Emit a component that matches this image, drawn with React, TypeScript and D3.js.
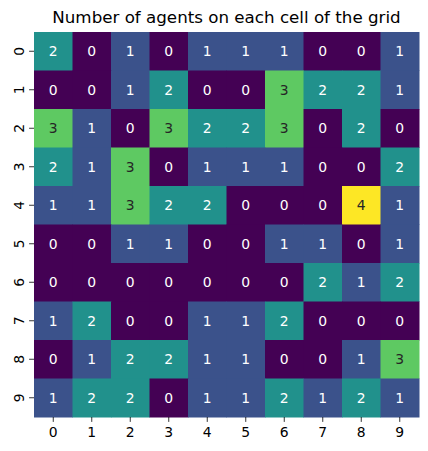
import React from "react";
import * as d3 from "d3";

const rows = ["0", "1", "2", "3", "4", "5", "6", "7", "8", "9"];
const cols = ["0", "1", "2", "3", "4", "5", "6", "7", "8", "9"];
const values: number[][] = [
  [2, 0, 1, 0, 1, 1, 1, 0, 0, 1],
  [0, 0, 1, 2, 0, 0, 3, 2, 2, 1],
  [3, 1, 0, 3, 2, 2, 3, 0, 2, 0],
  [2, 1, 3, 0, 1, 1, 1, 0, 0, 2],
  [1, 1, 3, 2, 2, 0, 0, 0, 4, 1],
  [0, 0, 1, 1, 0, 0, 1, 1, 0, 1],
  [0, 0, 0, 0, 0, 0, 0, 2, 1, 2],
  [1, 2, 0, 0, 1, 1, 2, 0, 0, 0],
  [0, 1, 2, 2, 1, 1, 0, 0, 1, 3],
  [1, 2, 2, 0, 1, 1, 2, 1, 2, 1],
];
const title = "Number of agents on each cell of the grid";

function relLum(col: string) {
  const c = d3.color(col)!.rgb();
  const f = (v: number) => {
    const s = v / 255;
    return s <= 0.03928 ? s / 12.92 : Math.pow((s + 0.055) / 1.055, 2.4);
  };
  return 0.2126 * f(c.r) + 0.7152 * f(c.g) + 0.0722 * f(c.b);
}

export default function App() {
  const W = 428, H = 451;
  const left = 34, right = 419, top = 32, bottom = 417;
  const x = d3.scaleBand<string>().domain(cols).range([left, right]);
  const y = d3.scaleBand<string>().domain(rows).range([top, bottom]);
  const maxV = d3.max(values.flat()) as number;
  const color = d3.scaleSequential(d3.interpolateViridis).domain([0, maxV]);
  const font = "DejaVu Sans, sans-serif";
  return (
    <svg width={W} height={H} style={{ position: "absolute", left: 0, top: 0, background: "#fff" }} fontFamily={font}>
      <text x={(left + right) / 2} y={23} textAnchor="middle" fontSize={16.7} fill="#000">{title}</text>
      {values.map((row, i) =>
        row.map((v, j) => {
          const fill = color(v);
          return (
            <g key={`${i}-${j}`}>
              <rect x={x(cols[j])} y={y(rows[i])} width={x.bandwidth() + 0.5} height={y.bandwidth() + 0.5} fill={fill} />
              <text
                x={(x(cols[j]) as number) + x.bandwidth() / 2}
                y={(y(rows[i]) as number) + y.bandwidth() / 2}
                dy="0.36em"
                textAnchor="middle"
                fontSize={13.9}
                fill={relLum(fill) > 0.408 ? "#262626" : "#ffffff"}
              >{v}</text>
            </g>
          );
        })
      )}
      {cols.map((c) => {
        const cx = (x(c) as number) + x.bandwidth() / 2;
        return (
          <g key={"xt" + c}>
            <line x1={cx} x2={cx} y1={bottom} y2={bottom + 4.9} stroke="#000" strokeWidth={0.8} />
            <text x={cx} y={bottom + 20} textAnchor="middle" fontSize={13.9} fill="#000">{c}</text>
          </g>
        );
      })}
      {rows.map((r) => {
        const cy = (y(r) as number) + y.bandwidth() / 2;
        return (
          <g key={"yt" + r}>
            <line x1={left - 4.9} x2={left} y1={cy} y2={cy} stroke="#000" strokeWidth={0.8} />
            <text transform={`translate(${left - 15},${cy}) rotate(-90)`} textAnchor="middle" dy="0.36em" fontSize={13.9} fill="#000">{r}</text>
          </g>
        );
      })}
    </svg>
  );
}
